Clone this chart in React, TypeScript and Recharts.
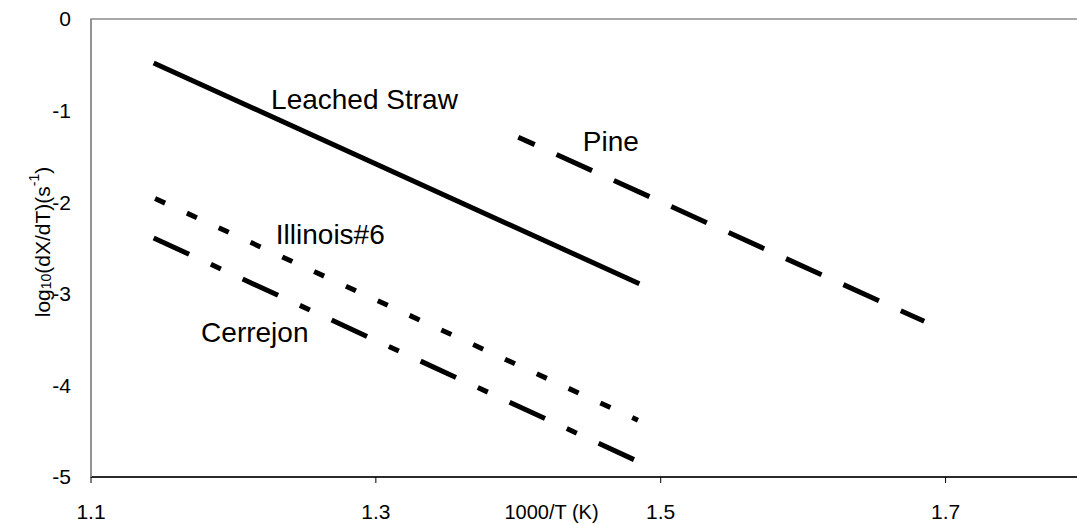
import React from 'react';
import { LineChart, Line, XAxis, YAxis, ReferenceArea, ReferenceDot } from 'recharts';

const FONT = "Arial, 'Liberation Sans', sans-serif";

// axis ticks (the plot runs past the right edge of the picture)
const X_TICKS = [1.1, 1.3, 1.5, 1.7];
const Y_TICKS = [-5, -4, -3, -2, -1, 0];

// series end points
const STRAW_X = [1.144, 1.485];
const STRAW_Y = [-0.48, -2.89];
const PINE_X = [1.4, 1.685];
const PINE_Y = [-1.29, -3.3];
const ILLINOIS_X = [1.145, 1.484];
const ILLINOIS_Y = [-1.96, -4.38];
const CERREJON_X = [1.144, 1.484];
const CERREJON_Y = [-2.39, -4.83];

// in-plot captions
const LABEL_TEXT = ['Leached Straw', 'Pine', 'Illinois#6', 'Cerrejon'];
const LABEL_X = [1.292, 1.465, 1.268, 1.215];
const LABEL_Y = [-0.87, -1.33, -2.35, -3.42];

const pts = (xs: number[], ys: number[]) => xs.map((x, i) => ({ x, y: ys[i] }));

const series = [
  { name: 'Leached Straw', data: pts(STRAW_X, STRAW_Y), dash: undefined, offset: 0 },
  { name: 'Pine', data: pts(PINE_X, PINE_Y), dash: '39 24', offset: 21 },
  { name: 'Illinois#6', data: pts(ILLINOIS_X, ILLINOIS_Y), dash: '11 24', offset: 0 },
  { name: 'Cerrejon', data: pts(CERREJON_X, CERREJON_Y), dash: '39 24 11 24', offset: 0 },
];

function YTitle(props: any) {
  const { viewBox } = props;
  const cx = 42;
  const cy = viewBox.y + viewBox.height / 2 - 6;
  return (
    <text
      x={cx}
      y={cy}
      transform={`rotate(-90 ${cx} ${cy})`}
      textAnchor="middle"
      dominantBaseline="central"
      fontFamily={FONT}
      fontSize={21}
      fill="#000"
    >
      log
      <tspan fontSize={14} dy={4}>10</tspan>
      <tspan dy={-4}>(dX/dT)(s</tspan>
      <tspan fontSize={14} dy={-8}>-1</tspan>
      <tspan dy={8}>)</tspan>
    </text>
  );
}

function XTitle(props: any) {
  const { viewBox } = props;
  return (
    <text
      x={viewBox.x + viewBox.width / 2 - 38}
      y={512}
      textAnchor="middle"
      dominantBaseline="central"
      fontFamily={FONT}
      fontSize={20}
      fill="#000"
    >
      1000/T (K)
    </text>
  );
}

export default function App() {
  return (
    <div style={{ position: 'absolute', left: 0, top: 0, width: 1077, height: 524, overflow: 'hidden', background: '#fff' }}>
      <LineChart
        width={1092}
        height={524}
        margin={{ top: 19, right: 4, left: 0, bottom: 0 }}
        style={{ fontFamily: FONT }}
      >
        <ReferenceArea x1={1.1} x2={1.8} y1={-5} y2={0} fill="none" stroke="#8c8c8c" strokeWidth={1.5} ifOverflow="visible" />
        <XAxis
          type="number"
          dataKey="x"
          domain={[1.1, 1.8]}
          ticks={X_TICKS}
          allowDataOverflow
          height={47}
          axisLine={{ stroke: '#000', strokeWidth: 1.5 }}
          tickLine={{ stroke: '#000' }}
          tickSize={6}
          tickMargin={21}
          tick={{ fill: '#000', fontSize: 21, fontFamily: FONT }}
          tickFormatter={(v: number) => v.toFixed(1)}
          label={{ content: XTitle }}
        />
        <YAxis
          type="number"
          domain={[-5, 0]}
          ticks={Y_TICKS}
          width={91}
          axisLine={{ stroke: '#8c8c8c', strokeWidth: 1.5 }}
          tickLine={false}
          tickSize={0}
          tickMargin={20}
          tick={{ fill: '#000', fontSize: 21, fontFamily: FONT }}
          label={{ content: YTitle }}
        />
        {series.map((s) => (
          <Line
            key={s.name}
            data={s.data}
            dataKey="y"
            type="linear"
            stroke="#000"
            strokeWidth={5}
            strokeDasharray={s.dash}
            strokeDashoffset={s.offset}
            strokeLinecap="butt"
            dot={false}
            activeDot={false}
            isAnimationActive={false}
          />
        ))}
        {LABEL_TEXT.map((t, i) => (
          <ReferenceDot
            key={t}
            x={LABEL_X[i]}
            y={LABEL_Y[i]}
            r={0}
            stroke="none"
            fill="none"
            label={{ value: t, position: 'center', fontSize: 28, fill: '#000', fontFamily: FONT }}
          />
        ))}
      </LineChart>
    </div>
  );
}
